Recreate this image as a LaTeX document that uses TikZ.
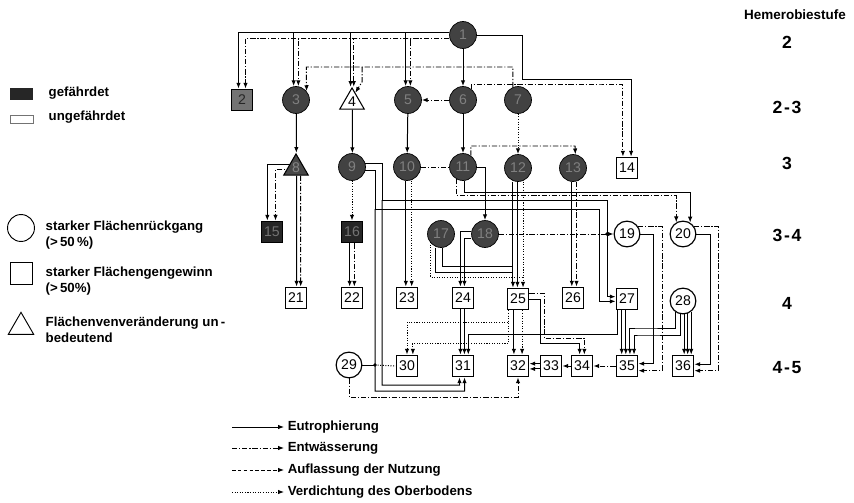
\documentclass[tikz,border=0pt]{standalone}
\usepackage{fontspec}
\setmainfont{Liberation Sans}
\usetikzlibrary{arrows.meta,shapes.geometric,calc}
\pgfdeclarelayer{bg}
\pgfsetlayers{bg,main}
\begin{document}
\begin{tikzpicture}[x=0.03cm,y=-0.03cm,
  lw/.style={line width=0.85pt},
  eu/.style={lw},
  en/.style={lw, dash pattern=on 4.5pt off 1.6pt on 1pt off 1.6pt},
  ve/.style={lw, dash pattern=on 0.9pt off 1.3pt},
  arr/.style={-{Latex[length=5pt,width=3.8pt]}},
  num/.style={font=\fontsize{12}{13}\selectfont},
  dark/.style={circle, draw, line width=0.6pt, fill=black!74, minimum size=23pt, inner sep=0pt, text=black!50, num},
  light/.style={circle, draw, line width=1pt, fill=white, minimum size=22pt, inner sep=0pt, num},
  box/.style={rectangle, draw, line width=0.9pt, fill=white, minimum size=18.5pt, inner sep=0pt, num},
  dbox/.style={box, fill=black!85, text=black!55},
  tri/.style={regular polygon, regular polygon sides=3, draw, line width=0.9pt, fill=white, minimum size=24pt, inner sep=0pt, num},
  legtext/.style={font=\fontsize{11.3}{14}\selectfont\bfseries, inner sep=3pt},
  rowlab/.style={font=\fontsize{15}{17}\selectfont\bfseries},
]
\useasboundingbox (0,0) rectangle (854,503);

% ---------- nodes ----------
\node[dark] (n1) at (463,35) {1};
\node[box, fill=black!55, text=black!85] (n2) at (242,100) {2};
\node[dark] (n3) at (296,100) {3};
\node[tri] (n4) at (352,102) {4};
\node[dark] (n5) at (408,100) {5};
\node[dark] (n6) at (463,100) {6};
\node[dark] (n7) at (518,100) {7};
\node[tri, fill=black!72, text=black!48] (n8) at (296,168) {8};
\node[dark] (n9) at (352,167) {9};
\node[dark] (n10) at (407,167) {10};
\node[dark] (n11) at (463,167) {11};
\node[dark] (n12) at (518,168) {12};
\node[dark] (n13) at (573,168) {13};
\node[box] (n14) at (627,168) {14};
\node[dbox] (n15) at (272,232) {15};
\node[dbox] (n16) at (352,232) {16};
\node[dark] (n17) at (441,234) {17};
\node[dark] (n18) at (485,234) {18};
\node[light] (n19) at (627,234) {19};
\node[light] (n20) at (683,234) {20};
\node[box] (n21) at (296,298) {21};
\node[box] (n22) at (352,298) {22};
\node[box] (n23) at (407,298) {23};
\node[box] (n24) at (463,298) {24};
\node[box] (n25) at (518,299) {25};
\node[box] (n26) at (573,298) {26};
\node[box] (n27) at (627,299) {27};
\node[light] (n28) at (683,301) {28};
\node[light] (n29) at (349,365) {29};
\node[box] (n30) at (407,366) {30};
\node[box] (n31) at (463,366) {31};
\node[box] (n32) at (518,366) {32};
\node[box] (n33) at (551,366) {33};
\node[box] (n34) at (582,366) {34};
\node[box] (n35) at (627,366) {35};
\node[box] (n36) at (683,366) {36};

% ---------- connectors ----------
\begin{pgfonlayer}{bg}
% from 1
\draw[eu,arr] ([yshift=2pt]n1.west) -| ([xshift=-3pt]n2.north);
\draw[en,arr] ([yshift=-3pt]n1.west) -| ([xshift=3pt]n2.north);
\draw[eu,arr] ([yshift=2pt]n1.west) -| ([xshift=-2pt]n3.north);
\draw[en,arr] ([yshift=-3pt]n1.west) -| ([xshift=2pt]n3.north);
\draw[eu,arr] ([yshift=2pt]n1.west) -| ([xshift=-1.2pt]n4.north);
\draw[en,arr] ([yshift=-3pt]n1.west) -| ([xshift=1.5pt]n4.north);
\draw[eu,arr] ([yshift=2pt]n1.west) -| ([xshift=-2pt]n5.north);
\draw[en,arr] ([yshift=-3pt]n1.west) -| ([xshift=2pt]n5.north);
\draw[eu,arr] (n1) -- (n6);
\draw[eu,arr] (n1.east) -| (522,79) -| ([xshift=3.5pt]n14.north);
\draw[en,arr] (n6.50) |- (600,84) -| ([xshift=-3.5pt]n14.north);
\draw[en,arr] (n7.112) |- (306.3,67) -- (n3.40);
\draw[en,arr] (362,67) -- (362,82) -- ([shift={(2.8pt,-5pt)}]n4.north);
\draw[en,arr] (n6) -- (n5);
% row 2-3 to row 3
\draw[eu,arr] ([xshift=0.3pt]n3.south) -- ([xshift=0.3pt]n8.north);
\draw[eu,arr] ([xshift=0.3pt]n4.south) -- ([xshift=0.3pt]n9.north);
\draw[eu,arr] (n5) -- (n10);
\draw[eu,arr] (n6) -- (n11);
\draw[ve,arr] (n7) -- (n12);
\draw[en,arr] (n11.55) |- (575,146) -- (n13.80);
\draw[en] (n10) -- (n11);
% 8
\draw[eu,arr] ([shift={(-5pt,3pt)}]n8.center) -| ([xshift=-4pt]n15.north);
\draw[en,arr] ([shift={(-3pt,-1.5pt)}]n8.center) -| ([xshift=3pt]n15.north);
\draw[eu,arr] ([xshift=0.5pt]n8.south) -- ([xshift=0.5pt]n21.north);
\draw[en,arr] ([xshift=4pt]n8.south) -- ([xshift=4pt]n21.north);
% 9, 16, 10
\draw[ve,arr] (n9) -- (n16);
\draw[eu,arr] ([xshift=-2pt]n16.south) -- ([xshift=-2pt]n22.north);
\draw[en,arr] ([xshift=2pt]n16.south) -- ([xshift=2pt]n22.north);
\draw[eu,arr] ([xshift=-1pt]n10.south) -- ([xshift=-1pt]n23.north);
\draw[ve,arr] ([xshift=4pt]n10.south) -- ([xshift=4pt]n23.north);
\draw[eu,arr] (n9.15) -| (382,200) -- (607,200) |- ([yshift=2pt]n27.west);
\draw[eu,arr] (n9.345) -| (375,209) -- (599,209) |- ([yshift=-2pt]n27.west);
\draw[eu,arr] (382,200) |- (459.5,385) -- ([xshift=-3pt]n31.south);
\draw[eu,arr] (375,209) |- (464.5,391) -- ([xshift=1.3pt]n31.south);
% 29
\draw[en,arr] (n29.south) |- (518,397) -- (n32.south);
\draw[eu] (375,365) -- (n29.east);
\draw[ve] (375,365) -- (n30.west);
\fill (375,365) circle (1.5pt);
% 11
\draw[eu,arr] (n11.east) -| (n18.north);
\draw[eu,arr] ([xshift=1pt]n11.south) -- ++(0,11.5) -| (n20.58);
\draw[en,arr] (n11.240) -- ++(0,16.5) -| (n20.120);
% 12, 13
\draw[eu,arr] ([xshift=-4.3pt]n12.south) -- ([xshift=-4.3pt]n25.north);
\draw[eu,arr] ([xshift=-0.5pt]n12.south) -- ([xshift=-0.5pt]n25.north);
\draw[ve,arr] ([xshift=4.3pt]n12.south) -- ([xshift=4.3pt]n25.north);
\draw[eu,arr] ([xshift=-1pt]n13.south) -- ([xshift=-1pt]n26.north);
\draw[en,arr] ([xshift=3pt]n13.south) -- ([xshift=3pt]n26.north);
% 17
\draw[eu] ([xshift=1pt]n17.south) |- (513,266);
\draw[eu] ([xshift=-5pt]n17.south) |- (513,272);
\draw[ve] ([shift={(-9pt,5pt)}]n17.south) |- (523,277);
% 18
\draw[eu,arr] ([yshift=2.5pt]n18.west) -| ([xshift=-2.2pt]n24.north);
\draw[eu,arr] ([yshift=-3.5pt]n18.west) -| ([xshift=1.2pt]n24.north);
\draw[en] (n18.east) -- (607,234);
\draw[eu,arr] (607,234) -- (n19.west);
\fill (607,234) circle (1.5pt);
% 19, 20
\draw[eu,arr] (n19.east) -- (653,234) |- ([yshift=2pt]n35.east);
\draw[en,arr] (n19.35) -- ++(24,0) |- ([yshift=-4pt]n35.east);
\draw[eu,arr] (n20.east) -- ++(14,0) |- ([yshift=1.5pt]n36.east);
\draw[en,arr] (n20.35) -- ++(24,0) |- ([yshift=-4pt]n36.east);
% 27
\draw[eu,arr] ([xshift=-4.5pt]n27.south) -- ([xshift=-4.5pt]n35.north);
\draw[eu,arr] ([xshift=-1pt]n27.south) -- ([xshift=-1pt]n35.north);
\draw[eu,arr] ([xshift=-8pt]n27.south) -- ++(0,24) -| ([xshift=4.5pt]n31.north);
% 28
\draw[eu,arr] ([shift={(-6pt,2pt)}]n28.south) |- (640,328) -| ([xshift=2.5pt]n35.north);
\draw[eu,arr] ([shift={(-2.5pt,0.5pt)}]n28.south) |- (640,335) -| ([xshift=6pt]n35.north);
\draw[eu,arr] ([xshift=1pt]n28.south) -- ([xshift=1pt]n36.north);
\draw[eu,arr] ([shift={(4pt,1pt)}]n28.south) -- ([xshift=4pt]n36.north);
\draw[eu,arr] ([shift={(7pt,2.5pt)}]n28.south) -- ([xshift=7pt]n36.north);
% 24, 25
\draw[eu,arr] ([xshift=-2.2pt]n24.south) -- ([xshift=-2.2pt]n31.north);
\draw[eu,arr] ([xshift=1.2pt]n24.south) -- ([xshift=1.2pt]n31.north);
\draw[eu,arr] ([xshift=-3.5pt]n25.south) -- ([xshift=-3.5pt]n32.north);
\draw[ve,arr] ([xshift=3.5pt]n25.south) -- ([xshift=3.5pt]n32.north);
\draw[ve,arr] ([xshift=-8pt]n25.south) -- ++(0,12) -| ([xshift=0pt]n30.north);
\draw[ve,arr] ([xshift=-8pt]n25.south) -- ++(0,33) -| ([xshift=5pt]n30.north);
\draw[eu,arr] (n25.east) -| (540,343) -| ([xshift=-2pt]n34.north);
\draw[en,arr] ([yshift=5pt]n25.east) -| (544,338) -| ([xshift=2pt]n34.north);
% bottom row
\draw[eu,arr] ([yshift=2pt]n33.west) -- ([yshift=2pt]n32.east);
\draw[eu,arr] ([yshift=-2.5pt]n33.west) -- ([yshift=-2.5pt]n32.east);
\draw[en,arr] (n34) -- (n33);
\draw[en,arr] (n35) -- (n34);
\end{pgfonlayer}

% ---------- right scale ----------
\node[font=\fontsize{11.5}{13}\selectfont\bfseries] (hs) at (795,15) {Hemerobiestufe};
\node[rowlab] (r1) at (787,42) {2};
\node[rowlab] (r2) at (787,107) {2\kern1.5pt-\kern1.5pt3};
\node[rowlab] (r3) at (787,163) {3};
\node[rowlab] (r4) at (787,235) {3\kern1.5pt-\kern1.5pt4};
\node[rowlab] (r5) at (787,303) {4};
\node[rowlab] (r6) at (787,368) {4\kern1.5pt-\kern1.5pt5};

% ---------- left legend ----------
\node[fill=black!85, minimum width=19.5pt, minimum height=10pt, inner sep=0pt] (kg) at (21.5,94) {};
\node[legtext, anchor=west] (tg) at (45,93) {gefährdet};
\node[draw=black!55, line width=0.5pt, minimum width=19.5pt, minimum height=7pt, inner sep=0pt] (ku) at (21.5,119) {};
\node[legtext, anchor=west] (tu) at (45,117) {ungefährdet};
\node[circle, draw, line width=0.8pt, minimum size=23pt, inner sep=0pt] (kc) at (21,228) {};
\node[legtext, anchor=west, align=left] (tc) at (42,235) {starker Flächenrückgang\\(>\,50\,\%)};
\node[draw, line width=0.8pt, minimum size=19.5pt, inner sep=0pt] (ks) at (21.5,273.5) {};
\node[legtext, anchor=west, align=left] (ts) at (42,281) {starker Flächengengewinn\\(>\,50\%)};
\node[regular polygon, regular polygon sides=3, draw, line width=0.8pt, minimum size=25pt, inner sep=0pt] (kt) at (21,327) {};
\node[legtext, anchor=west, align=left] (tt) at (42,330) {Flächenvenveränderung un\,-\\bedeutend};

% ---------- bottom legend ----------
\node[legtext, anchor=west] (l1) at (284,427) {Eutrophierung};
\node[legtext, anchor=west] (l2) at (284,448) {Entwässerung};
\node[legtext, anchor=west] (l3) at (284,470) {Auflassung der Nutzung};
\node[legtext, anchor=west] (l4) at (284,492) {Verdichtung des Oberbodens};
\coordinate (s1) at (232,427);
\coordinate (s2) at (232,448);
\coordinate (s3) at (232,470);
\coordinate (s4) at (232,492);
\draw[eu,arr] (s1) -- (l1.west);
\draw[en,arr] (s2) -- (l2.west);
\draw[lw,dash pattern=on 3pt off 2pt,arr] (s3) -- (l3.west);
\draw[ve,arr] (s4) -- (l4.west);
\end{tikzpicture}
\end{document}
